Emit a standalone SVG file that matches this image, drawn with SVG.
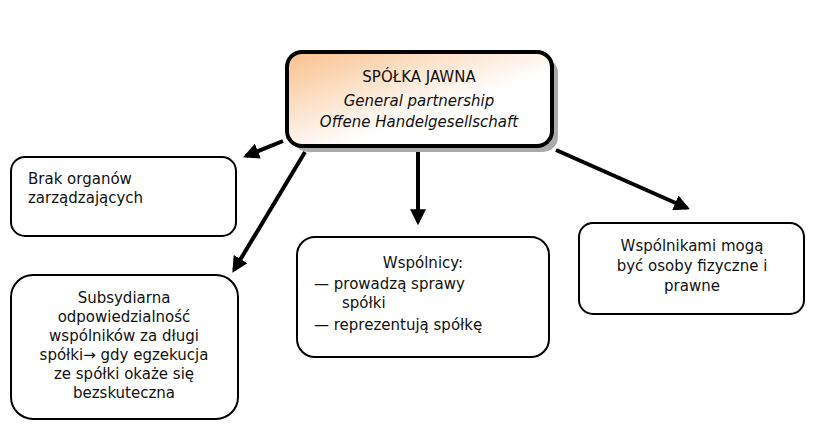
<svg xmlns="http://www.w3.org/2000/svg" width="829" height="436" viewBox="0 0 829 436">
<style>
.box{fill:#fff;stroke:#000;stroke-width:2}
.t{font-family:"DejaVu Sans",Verdana,sans-serif;font-size:15px;fill:#111}
.c{stroke:#000;stroke-width:4;fill:none;marker-end:url(#ah)}
</style>
<defs>
<marker id="ah" viewBox="0 0 10 10" refX="8" refY="5" markerWidth="4" markerHeight="4" orient="auto"><path d="M0,0L10,5L0,10z" fill="#000"/></marker>
<linearGradient id="g" x1="0" y1="0" x2="1" y2="1"><stop offset="0" stop-color="#f9c08c"/><stop offset="0.6" stop-color="#fff"/><stop offset="1" stop-color="#fff"/></linearGradient>
</defs>
<rect width="829" height="436" fill="#fff"/>
<g id="connectors">
<line class="c" x1="283" y1="141" x2="246" y2="156"/>
<line class="c" x1="305" y1="152" x2="234" y2="270"/>
<line class="c" x1="418" y1="152" x2="418" y2="222"/>
<line class="c" x1="556" y1="150" x2="687" y2="208"/>
</g>
<g id="main">
<rect x="293" y="58" width="265" height="94" rx="15" fill="#aaa"/>
<rect x="287" y="52" width="265" height="94" rx="15" fill="url(#g)" stroke="#000" stroke-width="4"/>
<text class="t" x="419" y="82" text-anchor="middle" font-size="19">SPÓŁKA JAWNA</text>
<text class="t" x="419" y="106" text-anchor="middle" font-style="italic" font-size="16">General partnership</text>
<text class="t" x="419" y="127" text-anchor="middle" font-style="italic" font-size="16">Offene Handelgesellschaft</text>
</g>
<g id="n1">
<rect class="box" x="11" y="157" width="225" height="79" rx="14"/>
<text class="t" x="28" y="184">Brak organów</text>
<text class="t" x="28" y="203">zarządzających</text>
</g>
<g id="n2">
<rect class="box" x="11" y="275" width="227" height="144" rx="22"/>
<g class="t" text-anchor="middle">
<text x="124" y="303">Subsydiarna</text>
<text x="124" y="322">odpowiedzialność</text>
<text x="124" y="341">wspólników za długi</text>
<text x="124" y="360">spółki→ gdy egzekucja</text>
<text x="124" y="379">ze spółki okaże się</text>
<text x="124" y="398">bezskuteczna</text>
</g>
</g>
<g id="n3">
<rect class="box" x="297" y="237" width="252" height="120" rx="18"/>
<text class="t" x="423" y="268" text-anchor="middle">Wspólnicy:</text>
<text class="t" x="314" y="289">—  prowadzą sprawy</text>
<text class="t" x="342" y="308">spółki</text>
<text class="t" x="314" y="330">—  reprezentują spółkę</text>
</g>
<g id="n4">
<rect class="box" x="579" y="223" width="225" height="91" rx="14"/>
<g class="t" text-anchor="middle">
<text x="692" y="251">Wspólnikami mogą</text>
<text x="692" y="271">być osoby fizyczne i</text>
<text x="692" y="291">prawne</text>
</g>
</g>
</svg>
